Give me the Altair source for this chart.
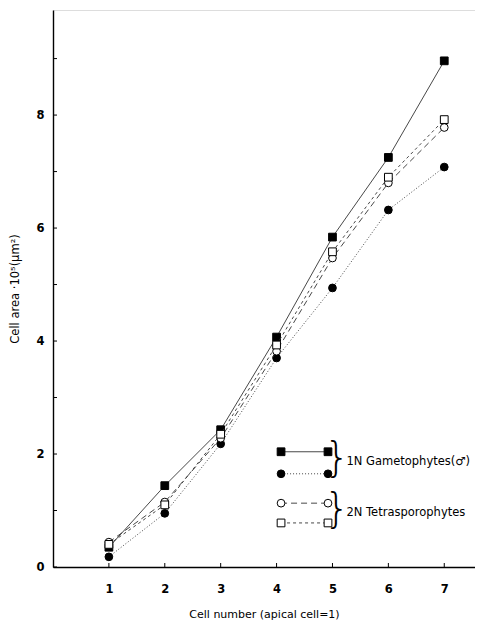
import altair as alt
import pandas as pd

# ---- data ----
cells = [1, 2, 3, 4, 5, 6, 7]
gam_square = [0.35, 1.44, 2.43, 4.07, 5.84, 7.25, 8.96]   # 1N, filled squares, solid
gam_circle = [0.18, 0.95, 2.18, 3.70, 4.94, 6.32, 7.08]   # 1N, filled circles, dotted
tet_circle = [0.44, 1.15, 2.28, 3.82, 5.47, 6.80, 7.78]   # 2N, open circles, long dash
tet_square = [0.40, 1.10, 2.35, 3.93, 5.58, 6.90, 7.92]   # 2N, open squares, short dash

x_ticks = [1, 2, 3, 4, 5, 6, 7]
y_ticks = [0, 1, 2, 3, 4, 5, 6, 7, 8, 9]

legend_x = [4.08, 4.92]
legend_rows = [2.04, 1.65, 1.13, 0.78]
legend_labels = ["1N Gametophytes(\u2642)", "2N Tetrasporophytes"]
legend_label_y = [1.85, 0.96]
legend_label_x = 5.25
bracket_x = 5.08

W, H = 422, 557
FONT = "DejaVu Sans"

df = pd.DataFrame({
    "cell": cells,
    "gs": gam_square,
    "gc": gam_circle,
    "tc": tet_circle,
    "ts": tet_square,
})

xs = alt.Scale(domain=[0, 7.55], nice=False, zero=False)
ys = alt.Scale(domain=[0, 9.86], nice=False)

x_axis = alt.Axis(
    values=x_ticks, ticks=False, grid=False, domain=True, domainColor="black",
    domainWidth=1.4, labelFont=FONT, labelFontSize=11.5, labelFontWeight="bold",
    labelColor="black", labelPadding=16, title="Cell number (apical cell=1)",
    titleFont=FONT, titleFontSize=11, titleFontWeight="normal", titleColor="black",
    titlePadding=14,
)
y_axis = alt.Axis(
    values=y_ticks, ticks=False, grid=False, domain=True, domainColor="black",
    domainWidth=1.4, labelFont=FONT, labelFontSize=11.5, labelFontWeight="bold",
    labelColor="black", labelPadding=9,
    labelExpr="datum.value % 2 == 0 ? datum.label : ''",
    title="Cell area \u00b710\u2075(\u03bcm\u00b2)", titleFont=FONT, titleFontSize=11.5,
    titleFontWeight="normal", titleColor="black", titlePadding=15,
)


def X(field):
    return alt.X(field, scale=xs, axis=x_axis)


def Y(field):
    return alt.Y(field, scale=ys, axis=y_axis)


layers = []
specs = [
    ("gs", None, "square", "black"),
    ("gc", [1, 2], "circle", "black"),
    ("tc", [6, 4], "circle", "white"),
    ("ts", [3, 3], "square", "white"),
]
for col, dash, shape, fill in specs:
    base = alt.Chart(df).encode(x=X("cell:Q"), y=Y(f"{col}:Q"))
    if dash is None:
        line = base.mark_line(color="#333", strokeWidth=0.9)
    else:
        line = base.mark_line(color="#333", strokeWidth=0.9, strokeDash=dash)
    pts = base.mark_point(shape=shape, filled=True, fill=fill, stroke="black",
                          strokeWidth=1, size=60, opacity=1)
    layers += [line, pts]

# inward ticks
ytick_df = pd.DataFrame({"v": y_ticks})
xtick_df = pd.DataFrame({"v": x_ticks})
layers.append(alt.Chart(ytick_df).mark_rule(color="black", strokeWidth=1).encode(
    y=Y("v:Q"), x=alt.value(0), x2=alt.value(4)))
layers.append(alt.Chart(xtick_df).mark_rule(color="black", strokeWidth=1).encode(
    x=X("v:Q"), y=alt.value(H), y2=alt.value(H - 4)))

# legend
for row_y, (col, dash, shape, fill) in zip(legend_rows, specs):
    ldf = pd.DataFrame({"x": legend_x, "y": [row_y, row_y]})
    lb = alt.Chart(ldf).encode(x=X("x:Q"), y=Y("y:Q"))
    if dash is None:
        layers.append(lb.mark_line(color="#333", strokeWidth=0.9))
    else:
        layers.append(lb.mark_line(color="#333", strokeWidth=0.9, strokeDash=dash))
    layers.append(lb.mark_point(shape=shape, filled=True, fill=fill, stroke="black",
                                strokeWidth=1, size=60, opacity=1))

br_df = pd.DataFrame({"x": [bracket_x, bracket_x], "y": legend_label_y})
layers.append(alt.Chart(br_df).mark_text(text="}", font=FONT, fontSize=40,
                                          fontWeight=200, color="black",
                                          baseline="middle", dy=-3).encode(
    x=X("x:Q"), y=Y("y:Q")))
lab_df = pd.DataFrame({"x": [legend_label_x] * 2, "y": legend_label_y, "t": legend_labels})
layers.append(alt.Chart(lab_df).mark_text(font=FONT, fontSize=11.5, color="black",
                                           align="left", baseline="middle").encode(
    x=X("x:Q"), y=Y("y:Q"), text="t:N"))

chart = alt.layer(*layers).properties(
    width=W, height=H,
    autosize=alt.AutoSizeParams(type="none"),
    padding={"left": 45, "top": 2, "right": 0, "bottom": 58},
).configure_view(stroke=None).configure(background="white")

chart.save("out.html", embed_options={"renderer": "svg", "actions": False})
